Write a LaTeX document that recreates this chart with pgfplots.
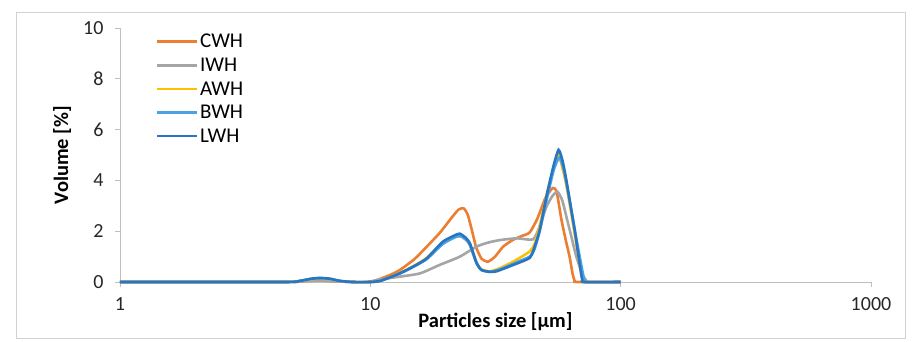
\documentclass[border=0pt]{standalone}
\usepackage{pgfplots}
\pgfplotsset{compat=1.18}
\usepackage{fontspec}
\setmainfont{Carlito}
\definecolor{cwh}{HTML}{ED7D31}
\definecolor{iwh}{HTML}{A5A5A5}
\definecolor{awh}{HTML}{FFC000}
\definecolor{bwh}{HTML}{4BA3E3}
\definecolor{lwh}{HTML}{2874C5}
\definecolor{axgray}{HTML}{BFBFBF}
\begin{document}
\begin{tikzpicture}
\begin{axis}[
 at={(0pt,0pt)}, anchor=south west,
 scale only axis, width=751pt, height=254pt,
 xmode=log, xmin=1, xmax=1000, ymin=0, ymax=10,
 xtick={1,10,100,1000}, xticklabels={1,10,100,1000},
 ytick={0,2,4,6,8,10},
 xminorticks=false,
 axis x line*=bottom, axis y line*=left,
 axis line style={draw=axgray, line width=0.8pt},
 tick style={draw=axgray, line width=0.8pt},
 tick align=outside, major tick length=5pt,
 ticklabel style={font=\fontsize{20}{22}\selectfont, text=black!85},
 /pgf/number format/assume math mode=true,
 xticklabel style={yshift=-7pt},
 yticklabel style={xshift=-8pt},
 xlabel={\textbf{Particles size [µm]}},
 ylabel={\textbf{Volume [\%]}},
 label style={font=\fontsize{20.5}{22}\selectfont},
 xlabel style={at={(axis description cs:0.5,-0.157)}, anchor=center},
 ylabel style={at={(axis description cs:-0.077,0.5)}, anchor=center},
 legend style={draw=none, fill=none, at={(axis description cs:0.043,0.992)}, anchor=north west, font=\fontsize{21}{23}\selectfont, row sep=4.6pt, nodes={inner sep=2pt}},
 legend cell align=left,
 legend image code/.code={\draw[#1] (0pt,0pt) -- (40pt,0pt);},
 every axis plot/.append style={line width=2.6pt, smooth, tension=0.35},
 clip=false,
]
\addplot[cwh] coordinates {(1,0)(4.5,0)(5.4,0.03)(6.2,0.06)(7.2,0.03)(8.5,0)(9.5,0)(10.5,0.06)(12,0.28)(13.1,0.47)(15,0.9)(16.8,1.39)(19,1.95)(21,2.5)(22.5,2.85)(23.6,2.9)(24.5,2.65)(25.5,2.0)(26.5,1.35)(27.8,0.92)(29.5,0.8)(31.5,1.0)(33.9,1.39)(37,1.65)(40,1.8)(43.3,1.95)(46.5,2.5)(50,3.3)(53.5,3.7)(55.5,3.55)(58,2.45)(60.5,1.6)(62.5,1.0)(64.2,0.35)(65.5,0.04)(67,0)(100,0)};
\addlegendentry{CWH}
\addplot[iwh] coordinates {(1,0)(4.5,0)(5.4,0.03)(6.2,0.06)(7.2,0.03)(8.5,0)(10,0)(10.6,0.08)(13.1,0.21)(15.8,0.34)(18.9,0.67)(22.8,1.0)(26.5,1.39)(29.5,1.55)(32.9,1.65)(38.4,1.72)(44.7,1.68)(47.5,2.2)(50.5,2.96)(53.5,3.4)(56,3.55)(58.5,3.2)(60.7,2.57)(63.5,1.8)(66.5,1.0)(70.7,0.25)(73.5,0.02)(75,0)(100,0)};
\addlegendentry{IWH}
\addplot[awh] coordinates {(1,0)(4.5,0)(5.2,0.04)(5.8,0.11)(6.3,0.14)(6.9,0.11)(7.6,0.04)(8.5,0)(10,0)(11,0.05)(13.1,0.35)(15,0.65)(16.8,0.95)(19.5,1.55)(22,1.78)(23,1.8)(24.2,1.65)(25,1.45)(26.6,0.75)(27.8,0.5)(30,0.42)(33,0.55)(37.2,0.8)(43.3,1.2)(45.3,1.5)(47.5,2.2)(50.5,3.4)(54,4.5)(56.5,5.0)(58.5,4.5)(60.7,3.8)(65.5,1.9)(68.5,0.7)(70.5,0.1)(72,0)(100,0)};
\addlegendentry{AWH}
\addplot[bwh] coordinates {(1,0)(4.5,0)(5.2,0.04)(5.8,0.12)(6.3,0.15)(6.9,0.12)(7.6,0.04)(8.5,0)(10,0)(11,0.05)(13.1,0.33)(15,0.62)(16.8,0.9)(19.5,1.5)(22,1.78)(23,1.8)(24.2,1.65)(25,1.45)(26.6,0.72)(27.8,0.48)(30,0.4)(33,0.5)(37.2,0.72)(43.3,1.0)(45.3,1.3)(47.5,2.0)(50.5,3.2)(54,4.4)(56.8,4.9)(59,4.5)(61.5,3.6)(66,1.9)(69.5,0.7)(71.5,0.1)(73,0)(100,0)};
\addlegendentry{BWH}
\addplot[lwh] coordinates {(1,0)(4.5,0)(5.2,0.04)(5.8,0.13)(6.3,0.16)(6.9,0.13)(7.6,0.04)(8.5,0)(10,0)(11,0.05)(13.1,0.34)(15,0.63)(16.8,0.93)(19.5,1.59)(22,1.86)(22.8,1.9)(24,1.75)(25,1.52)(26.6,0.74)(27.8,0.47)(30,0.4)(31.9,0.42)(37.2,0.67)(43.3,0.95)(45.3,1.39)(47.5,2.05)(50.5,3.36)(54,4.6)(56.5,5.2)(58.5,4.8)(60.7,4.0)(65.5,2.05)(68.5,0.74)(70.2,0.1)(71.5,0)(100,0)};
\addlegendentry{LWH}
\end{axis}
\draw[axgray!70, line width=0.8pt] (-104pt,-56pt) rectangle (785pt,270pt);
\path (-120pt,-59pt) rectangle (803pt,282pt);
\end{tikzpicture}
\end{document}
